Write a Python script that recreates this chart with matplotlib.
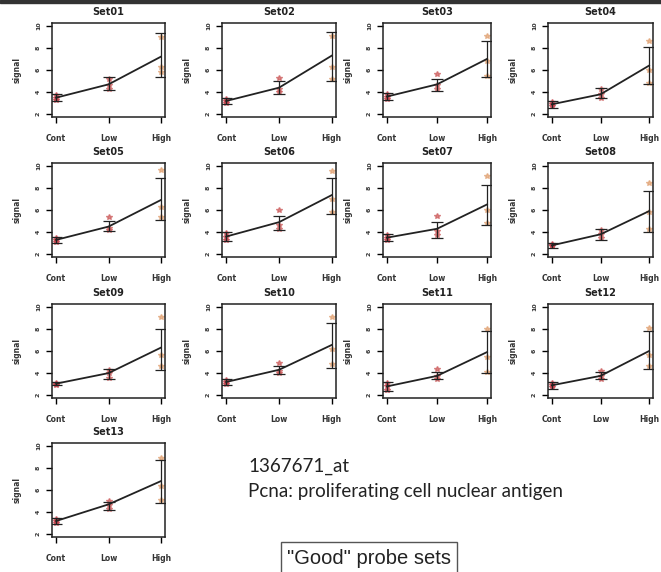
import matplotlib
matplotlib.use('Agg')
import matplotlib.pyplot as plt
from matplotlib.patches import Rectangle

W, H = 661, 572

groups = ['Cont', 'Low', 'High']
set_names = ['Set01', 'Set02', 'Set03', 'Set04', 'Set05', 'Set06', 'Set07',
             'Set08', 'Set09', 'Set10', 'Set11', 'Set12', 'Set13']

# group means (line)
cont_mean = [3.5, 3.2, 3.6, 2.9, 3.3, 3.6, 3.5, 2.8, 3.05, 3.2, 2.8, 2.9, 3.2]
low_mean = [4.7, 4.4, 4.7, 3.8, 4.5, 4.9, 4.3, 3.8, 4.0, 4.3, 3.75, 3.75, 4.7]
high_mean = [7.2, 7.3, 7.0, 6.4, 6.9, 7.35, 6.5, 5.9, 6.3, 6.55, 5.9, 6.0, 6.8]

# error bar ends
cont_lo = [3.2, 2.9, 3.3, 2.6, 3.0, 3.2, 3.2, 2.6, 2.9, 2.9, 2.35, 2.6, 2.95]
cont_hi = [3.8, 3.5, 3.9, 3.2, 3.6, 4.0, 3.8, 3.0, 3.2, 3.5, 3.2, 3.2, 3.45]
low_lo = [4.2, 3.8, 4.1, 3.45, 4.1, 4.15, 3.5, 3.3, 3.5, 3.9, 3.45, 3.45, 4.15]
low_hi = [5.35, 5.0, 5.2, 4.35, 5.0, 5.45, 4.9, 4.3, 4.4, 4.6, 4.1, 4.1, 4.95]
high_lo = [5.35, 5.0, 5.4, 4.7, 5.1, 5.6, 4.6, 4.05, 4.3, 4.5, 4.05, 4.4, 4.8]
high_hi = [9.35, 9.4, 8.6, 8.1, 8.9, 8.9, 8.3, 7.7, 8.0, 8.5, 7.8, 7.8, 8.7]

# replicate samples
cont_pts = [[3.3, 3.5, 3.7], [3.0, 3.2, 3.4], [3.4, 3.6, 3.8], [2.7, 2.9, 3.1],
            [3.1, 3.3, 3.5], [3.3, 3.6, 3.9], [3.3, 3.5, 3.7], [2.7, 2.8, 2.9],
            [2.95, 3.05, 3.15], [3.0, 3.2, 3.4], [2.5, 2.8, 3.1], [2.7, 2.9, 3.1],
            [3.0, 3.2, 3.4]]
low_pts = [[4.3, 4.6, 5.2], [4.0, 4.3, 5.3], [4.3, 4.6, 5.6], [3.5, 3.8, 4.3],
           [4.2, 4.4, 5.4], [4.3, 4.6, 6.0], [3.7, 4.1, 5.5], [3.5, 3.8, 4.2],
           [3.6, 4.0, 4.3], [4.0, 4.2, 4.95], [3.5, 3.7, 4.4], [3.5, 3.7, 4.2],
           [4.3, 4.6, 5.0]]
high_pts = [[5.8, 6.3, 9.0], [5.2, 6.3, 9.1], [5.5, 6.8, 9.1], [4.8, 6.0, 8.6],
            [5.4, 6.3, 9.6], [5.8, 7.0, 9.5], [4.8, 6.0, 9.1], [4.3, 5.8, 8.4],
            [4.6, 5.6, 9.05], [4.8, 6.2, 9.05], [4.1, 5.5, 8.0], [4.6, 5.6, 8.1],
            [5.1, 6.4, 8.9]]

col_left = [52, 222, 383, 548]
col_width = [113, 114, 108, 105]
row_top = [23, 163, 304, 443]
ax_h = 94

pt_colors = ['#c8404a', '#cc5a5a', '#e0a070']

fig = plt.figure(figsize=(W / 100, H / 100), dpi=100)

for i, name in enumerate(set_names):
    r, c = divmod(i, 4)
    l = col_left[c] / W
    b = 1 - (row_top[r] + ax_h) / H
    ax = fig.add_axes([l, b, col_width[c] / W, ax_h / H])

    means = [cont_mean[i], low_mean[i], high_mean[i]]
    los = [cont_lo[i], low_lo[i], high_lo[i]]
    his = [cont_hi[i], low_hi[i], high_hi[i]]
    pts = [cont_pts[i], low_pts[i], high_pts[i]]

    for g in range(3):
        ax.plot([g] * len(pts[g]), pts[g], linestyle='none', marker='*',
                markersize=4, color=pt_colors[g], alpha=0.7, zorder=2)

    ax.plot(range(3), means, color='#222222', lw=1.3, zorder=3)
    yerr = [[m - lo for m, lo in zip(means, los)],
            [hi - m for m, hi in zip(means, his)]]
    ax.errorbar(range(3), means, yerr=yerr, fmt='none', ecolor='#222222',
                elinewidth=0.9, capsize=4, capthick=0.9, zorder=3)

    ax.set_xlim(-0.08, 2.08)
    ax.set_ylim(1.75, 10.25)
    ax.set_xticks(range(3))
    ax.set_xticklabels(groups, fontsize=5.5, fontweight='bold', color='#333333')
    ax.set_yticks([2, 4, 6, 8, 10])
    ax.set_yticklabels(['2', '4', '6', '8', '10'], fontsize=4.5,
                       fontweight='bold', rotation=90, va='center',
                       color='#333333')
    ax.tick_params(direction='out', length=4, width=1, pad=4)
    ax.tick_params(axis='x', pad=8)
    ax.set_ylabel('signal', fontsize=5.5, fontweight='bold', color='#333333',
                  labelpad=10)
    ax.set_title(name, fontsize=7, fontweight='bold', color='#222222', pad=6)
    for s in ax.spines.values():
        s.set_linewidth(1.1)
        s.set_color('#222222')

fig.text(248 / W, 1 - 466 / H, '1367671_at', fontsize=13.5, family='Lato',
         va='center', ha='left', color='#222222')
fig.text(248 / W, 1 - 491 / H, 'Pcna: proliferating cell nuclear antigen',
         fontsize=13.5, family='Lato', va='center', ha='left', color='#222222')
fig.text(369 / W, 1 - 558 / H, '"Good" probe sets', fontsize=14.5,
         family='Liberation Sans', va='center', ha='center', color='#222222',
         bbox=dict(boxstyle='square,pad=0.3', fc='white', ec='#555555', lw=1))

# dark scan edge at top
fig.patches.append(Rectangle((0, 1 - 3 / H), 1, 3 / H, transform=fig.transFigure,
                             color='#333333', zorder=10))

fig.savefig('out.png', dpi=100)
